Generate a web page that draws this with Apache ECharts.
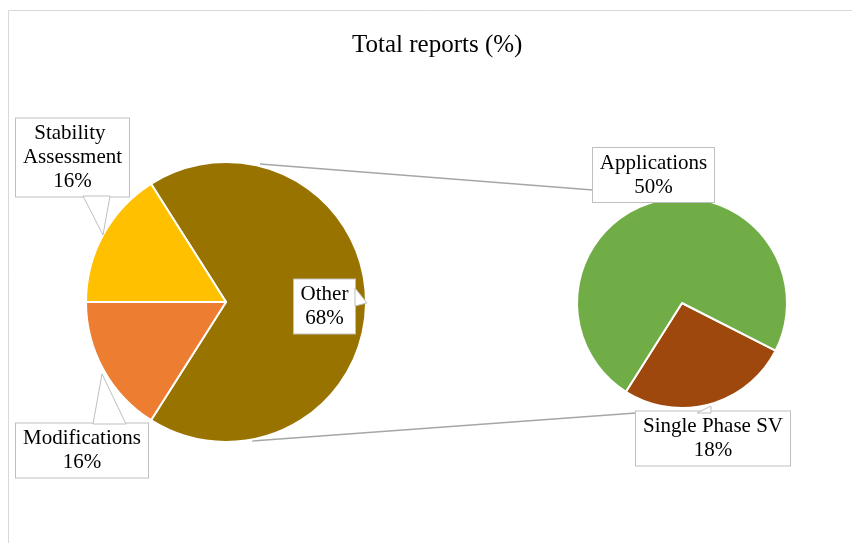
<!DOCTYPE html>
<html>
<head>
<meta charset="utf-8">
<script src="https://cdn.jsdelivr.net/npm/echarts@6/dist/echarts.min.js"></script>
<style>
html,body{margin:0;padding:0;background:#fff;}
#chart{width:852px;height:543px;}
</style>
</head>
<body>
<div id="chart"></div>
<script>
// ---- data ----
const mainCategories = ['Other', 'Modifications', 'Stability Assessment'];
const mainValues = [68, 16, 16];
const subCategories = ['Single Phase SV', 'Applications'];
const subValues = [18, 50];
const titleText = 'Total reports (%)';

// ---- styles / layout ----
const colors = {
  'Other': '#997300',
  'Modifications': '#ED7D31',
  'Stability Assessment': '#FFC000',
  'Single Phase SV': '#9E480E',
  'Applications': '#70AD47'
};
// label box centre + outer width
const labelBox = {
  'Other': {x: 324.5, y: 306.5, w: 63},
  'Modifications': {x: 82, y: 450.5, w: 134},
  'Stability Assessment': {x: 72.5, y: 157.5, w: 115},
  'Single Phase SV': {x: 713, y: 438.5, w: 156},
  'Applications': {x: 653.5, y: 175, w: 123}
};
const FONT = 'Liberation Serif';
const padX = 3, padY = 3;

function buildData(cats, vals) {
  return cats.map((c, i) => ({
    name: c,
    value: vals[i],
    itemStyle: {color: colors[c]},
    label: {width: labelBox[c].w - 2 * padX - 2, overflow: 'break'}
  }));
}

function layoutFor(cats) {
  return function (p) {
    const b = labelBox[cats[p.dataIndex]];
    return {x: b.x, y: b.y, align: 'center', verticalAlign: 'middle', moveOverlap: null};
  };
}

const labelCommon = {
  show: true,
  formatter: '{b}\n{c}%',
  color: '#000',
  fontFamily: FONT,
  fontSize: 21,
  lineHeight: 24,
  align: 'center',
  backgroundColor: '#fff',
  borderColor: '#bfbfbf',
  borderWidth: 1,
  padding: [padY, padX]
};

const lineStyle = {stroke: '#a6a6a6', lineWidth: 1.3};
const pointerStyle = {stroke: '#bfbfbf', lineWidth: 1, fill: '#fff'};

const chart = echarts.init(document.getElementById('chart'), null, {renderer: 'canvas'});
chart.setOption({
  backgroundColor: '#fff',
  animation: false,
  title: {
    text: titleText,
    left: 347,
    top: 28,
    textStyle: {fontFamily: FONT, fontSize: 25, fontWeight: 'normal', color: '#000'}
  },
  graphic: [
    {type: 'rect', shape: {x: 8.5, y: 10.5, width: 900, height: 600}, style: {stroke: '#d9d9d9', fill: null, lineWidth: 1}, z: 0, silent: true},
    {type: 'line', shape: {x1: 260, y1: 164, x2: 593, y2: 190}, style: lineStyle, z: 1, silent: true},
    {type: 'line', shape: {x1: 252, y1: 441, x2: 636, y2: 413}, style: lineStyle, z: 1, silent: true},
    // callout pointers
    {type: 'polygon', shape: {points: [[83, 196], [103, 235], [110, 196]]}, style: pointerStyle, z: 100, silent: true},
    {type: 'polygon', shape: {points: [[93, 424], [102, 374], [126, 424]]}, style: pointerStyle, z: 100, silent: true},
    {type: 'polygon', shape: {points: [[355, 288], [367, 303], [355, 306]]}, style: pointerStyle, z: 100, silent: true},
    {type: 'polygon', shape: {points: [[697, 413], [711, 406], [711, 413]]}, style: pointerStyle, z: 100, silent: true}
  ],
  series: [
    {
      type: 'pie',
      center: [226, 302],
      radius: 140,
      startAngle: 122.4,
      clockwise: true,
      avoidLabelOverlap: false,
      itemStyle: {borderColor: '#fff', borderWidth: 2},
      label: labelCommon,
      labelLine: {show: false},
      labelLayout: layoutFor(mainCategories),
      emphasis: {disabled: true},
      data: buildData(mainCategories, mainValues),
      z: 2
    },
    {
      type: 'pie',
      center: [682, 303],
      radius: 105,
      startAngle: -27,
      clockwise: true,
      avoidLabelOverlap: false,
      itemStyle: {borderColor: '#fff', borderWidth: 2},
      label: labelCommon,
      labelLine: {show: false},
      labelLayout: layoutFor(subCategories),
      emphasis: {disabled: true},
      data: buildData(subCategories, subValues),
      z: 2
    }
  ]
});
</script>
</body>
</html>
